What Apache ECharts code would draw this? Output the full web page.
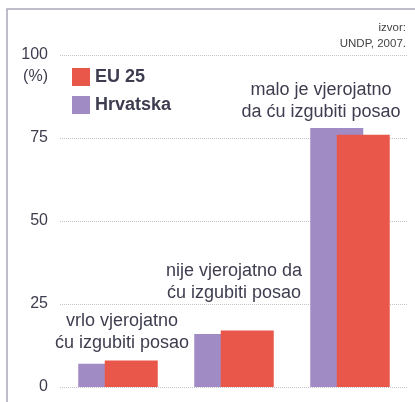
<!DOCTYPE html>
<html>
<head>
<meta charset="utf-8">
<script src="https://cdn.jsdelivr.net/npm/echarts@6/dist/echarts.min.js"></script>
<style>
  html, body { margin: 0; padding: 0; background: #fff; }
  #chart { width: 415px; height: 402px; }
</style>
</head>
<body>
<div id="chart"></div>
<script>
var dom = document.getElementById("chart");
var myChart = echarts.init(dom);

// podaci
var categories = ['vrlo vjerojatno ću izgubiti posao', 'nije vjerojatno da ću izgubiti posao', 'malo je vjerojatno da ću izgubiti posao'];
var hrvatska = [7, 16, 78];
var eu25 = [8, 17, 76];
var yTicks = [0, 25, 50, 75, 100];
var seriesNames = ['EU 25', 'Hrvatska'];

var textColor = '#3d3d4f';
var fontName = 'Liberation Sans';

// natpisi iznad grupa
function note(x, y, lines) {
    return {
        type: 'text',
        x: x,
        y: y,
        style: {
            text: lines.join('\n'),
            fill: textColor,
            font: '18px ' + fontName,
            lineHeight: 22,
            align: 'center',
            verticalAlign: 'middle'
        }
    };
}

option = {
    animation: false,
    grid: {
        left: 60,
        right: 7,
        top: 55,
        bottom: 15
    },
    legend: {
        orient: 'vertical',
        left: 67,
        top: 63,
        itemWidth: 18,
        itemHeight: 18,
        itemGap: 10,
        icon: 'rect',
        data: seriesNames,
        textStyle: {
            color: textColor,
            fontSize: 18,
            fontWeight: 'bold',
            fontFamily: fontName,
            lineHeight: 18
        }
    },
    xAxis: {
        type: 'category',
        data: categories,
        axisLine: { show: false },
        axisTick: { show: false },
        axisLabel: { show: false }
    },
    yAxis: {
        type: 'value',
        min: 0,
        max: 100,
        interval: 25,
        axisLine: { show: false },
        axisTick: { show: false },
        axisLabel: {
            margin: 12,
            color: textColor,
            fontSize: 16,
            fontFamily: fontName,
            formatter: function (v) {
                return yTicks.indexOf(v) >= 0 ? String(v) : '';
            }
        },
        splitLine: {
            lineStyle: { color: '#c4c4cc', type: 'dotted', width: 1 }
        }
    },
    series: [
        {
            name: 'Hrvatska',
            type: 'bar',
            data: hrvatska,
            barWidth: 53,
            barGap: '-50%',
            itemStyle: { color: '#a08bc5' }
        },
        {
            name: 'EU 25',
            type: 'bar',
            data: eu25,
            barWidth: 53,
            barGap: '-50%',
            itemStyle: { color: '#e8574a' }
        }
    ],
    graphic: [
        {
            type: 'polyline',
            shape: { points: [[7, 402], [7, 9], [415, 9]] },
            style: { stroke: '#aaa6ba', lineWidth: 1.5, fill: null }
        },
        {
            type: 'text',
            x: 48,
            y: 77,
            style: {
                text: '(%)',
                fill: textColor,
                font: '16px ' + fontName,
                align: 'right',
                verticalAlign: 'middle'
            }
        },
        {
            type: 'text',
            x: 406,
            y: 36,
            style: {
                text: 'izvor:\nUNDP, 2007.',
                fill: '#444',
                font: '11.5px ' + fontName,
                lineHeight: 16,
                align: 'right',
                verticalAlign: 'middle'
            }
        },
        note(122, 332, ['vrlo vjerojatno', 'ću izgubiti posao']),
        note(234, 282, ['nije vjerojatno da', 'ću izgubiti posao']),
        note(321, 101, ['malo je vjerojatno', 'da ću izgubiti posao'])
    ]
};

myChart.setOption(option, true);
</script>
</body>
</html>
